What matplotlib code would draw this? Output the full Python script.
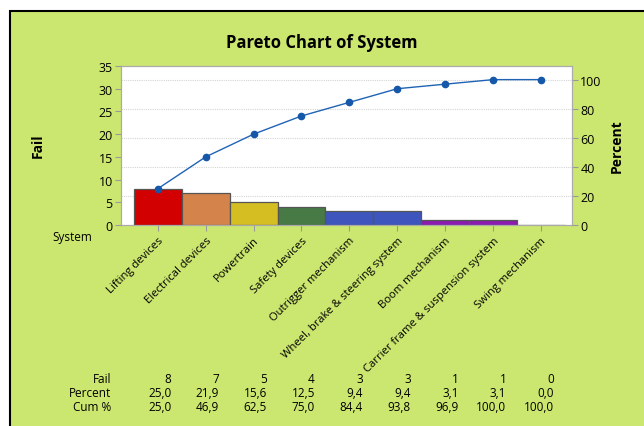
import matplotlib.pyplot as plt
import matplotlib.patches as mpatches
import matplotlib.transforms as mtransforms

plt.rcParams['font.family'] = ['Open Sans', 'DejaVu Sans']

# Data
systems = ["Lifting devices", "Electrical devices", "Powertrain", "Safety devices",
           "Outrigger mechanism", "Wheel, brake & steering system", "Boom mechanism",
           "Carrier frame & suspension system", "Swing mechanism"]
fails = [8, 7, 5, 4, 3, 3, 1, 1, 0]
bar_colors = ["#d20000", "#d4844a", "#d4be22", "#477a45", "#3d55bd", "#3d55bd",
              "#8a1ab0", "#8a1ab0", "#ffffff"]
pct_ticks = [0, 20, 40, 60, 80, 100]

total = sum(fails)
percent = [f / total * 100 for f in fails]
cum = []
s = 0
for p in percent:
    s += p
    cum.append(s)

bg = "#cce76f"
fig = plt.figure(figsize=(6.44, 4.27), dpi=100)
fig.patch.set_facecolor("white")

# green panel with black border
panel = mpatches.Rectangle((10 / 644, -0.01), 1.0, 1 - 12 / 427 + 0.01, transform=fig.transFigure,
                           facecolor=bg, edgecolor="black", linewidth=1.5, zorder=-10)
fig.patches.append(panel)

ax = fig.add_axes([121 / 644, 1 - 226 / 427, (572 - 121) / 644, (226 - 67) / 427])
ax.set_facecolor("white")

x = list(range(len(systems)))
# gridlines behind bars, at the percent ticks
for p in pct_ticks[1:]:
    ax.axhline(p / 100 * total, color="#d5d5d5", linestyle=(0, (1, 1)), linewidth=0.8, zorder=1)
ax.bar(x, fails, width=1.0, color=bar_colors, edgecolor="#555555", linewidth=0.9, zorder=2)
ax.set_xlim(-0.77, 8.65)
ax.set_ylim(0, 35)
ax.set_yticks(range(0, 36, 5))
ax.set_xticks(x)
ax.set_xticklabels(systems, rotation=45, ha="right", rotation_mode="anchor", fontsize=8.1)
ax.tick_params(axis="x", length=4, color="#999999", pad=3)
ax.tick_params(axis="y", length=4, color="#999999", labelsize=9, pad=2)
for sp in ax.spines.values():
    sp.set_color("#aaaaaa")

ax2 = ax.twinx()
ax2.set_ylim(0, 35 / total * 100)
ax2.set_yticks(pct_ticks)
ax2.tick_params(axis="y", length=4, color="#999999", labelsize=9, pad=2)
for sp in ax2.spines.values():
    sp.set_color("#aaaaaa")
ax2.plot(x, cum, color="#1f63b5", linewidth=1.0, marker="o", markersize=4.5,
         markerfacecolor="#1557a8", markeredgecolor="#1557a8", zorder=3)
ax2.set_ylabel("Percent", fontsize=10, fontweight="bold", labelpad=6)

fig.text(38 / 644, 1 - 146 / 427, "Fail", ha="center", va="center", rotation=90,
         fontsize=10, fontweight="bold")
fig.text(322 / 644, 1 - 43 / 427, "Pareto Chart of System", ha="center", va="center",
         fontsize=12, fontweight="bold")
fig.text(72 / 644, 1 - 238 / 427, "System", ha="center", va="center", fontsize=8.5)

# table below
trans = mtransforms.blended_transform_factory(ax.transData, fig.transFigure)
rows = [("Fail", [str(f) for f in fails], 380),
        ("Percent", [f"{p:.1f}".replace(".", ",") for p in percent], 394),
        ("Cum %", [f"{c:.1f}".replace(".", ",") for c in cum], 408)]
for name, vals, yy in rows:
    fig.text(111 / 644, 1 - yy / 427, name, ha="right", va="center", fontsize=8.5)
    for xi, v in zip(x, vals):
        ax.text(xi + 0.28, 1 - yy / 427, v, transform=trans, ha="right", va="center", fontsize=8.5)

fig.savefig("out.png", dpi=100, facecolor=fig.get_facecolor())
